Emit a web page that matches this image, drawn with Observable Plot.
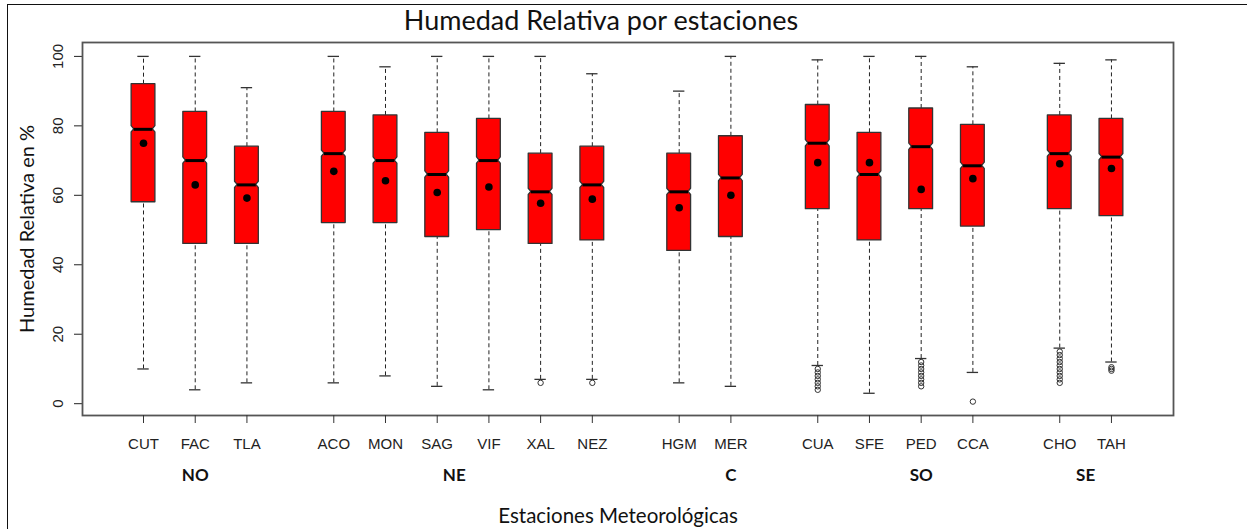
<!DOCTYPE html>
<html><head><meta charset="utf-8">
<script src="https://cdn.jsdelivr.net/npm/d3@7"></script>
<script src="https://cdn.jsdelivr.net/npm/@observablehq/plot@0.6"></script>
<style>
body{margin:0;background:#fff;}
#wrap{position:relative;width:1247px;height:529px;overflow:hidden;background:#fff;}
#wrap svg{position:absolute;left:0;top:0;}
#border{position:absolute;left:7px;top:4px;right:-5px;bottom:-5px;border-left:1.5px solid #111;border-top:1.5px solid #111;pointer-events:none;}
</style></head><body><div id="wrap"></div>
<script>
// ---- data ----
const stations = ["CUT","FAC","TLA","ACO","MON","SAG","VIF","XAL","NEZ","HGM","MER","CUA","SFE","PED","CCA","CHO","TAH"];
const regions  = ["NO","NO","NO","NE","NE","NE","NE","NE","NE","C","C","SO","SO","SO","SO","SE","SE"];
const regionNames = ["NO","NE","C","SO","SE"];
const whiskerLow  = [10, 4, 6, 6, 8, 5, 4, 7, 7, 6, 5, 11, 3, 13, 9, 16, 12];
const q1          = [58, 46, 46, 52, 52, 48, 50, 46, 47, 44, 48, 56, 47, 56, 51, 56, 54];
const medians     = [79, 70, 63, 72, 70, 66, 70, 61, 63, 61, 65, 75, 66, 74, 68.5, 72, 71];
const q3          = [92, 84, 74, 84, 83, 78, 82, 72, 74, 72, 77, 86, 78, 85, 80.3, 83, 82];
const whiskerHigh = [100, 100, 91, 100, 97, 100, 100, 100, 95, 90, 100, 99, 100, 100, 97, 98, 99];
const means       = [75, 63, 59.2, 66.9, 64.2, 60.8, 62.4, 57.7, 58.9, 56.4, 60, 69.4, 69.4, 61.7, 64.8, 69.1, 67.7];
const outliers = {
  XAL: [6],
  NEZ: [6],
  CUA: [4, 5, 6, 7, 8, 9, 10],
  PED: [5, 6, 7, 8, 9, 10, 11, 12],
  CCA: [0.6],
  CHO: [6, 7, 8, 9, 10, 11, 12, 13, 14, 15],
  TAH: [9.5, 10, 10.5]
};
const yTicks = [0, 20, 40, 60, 80, 100];
const title = "Humedad Relativa por estaciones";
const yLabel = "Humedad Relativa en %";
const xLabel = "Estaciones Meteorológicas";

// ---- layout ----
const groupGap = 0.68;
const pos = stations.map((s, i) => i + regionNames.indexOf(regions[i]) * groupGap);
const nameByPos = new Map(pos.map((p, i) => [p, stations[i]]));
const posOf = Object.fromEntries(stations.map((s, i) => [s, pos[i]]));
const regionLabelX = {NO: posOf.FAC, NE: posOf.SAG + 0.33, C: posOf.MER, SO: posOf.PED, SE: (posOf.CHO + posOf.TAH) / 2};
const hw = 0.23, capHw = 0.11, notchH = 0.9, notchIn = 0.05;

const rows = stations.map((s, i) => ({station: s, x: pos[i], lo: whiskerLow[i], q1: q1[i], med: medians[i], q3: q3[i], hi: whiskerHigh[i], mean: means[i]}));
const boxPts = rows.flatMap(r => [
  {station: r.station, y: r.q1, x1: r.x - hw, x2: r.x + hw},
  {station: r.station, y: r.med - notchH, x1: r.x - hw, x2: r.x + hw},
  {station: r.station, y: r.med, x1: r.x - hw + notchIn, x2: r.x + hw - notchIn},
  {station: r.station, y: r.med + notchH, x1: r.x - hw, x2: r.x + hw},
  {station: r.station, y: r.q3, x1: r.x - hw, x2: r.x + hw}
]);
const outPts = Object.entries(outliers).flatMap(([s, vals]) => vals.map(v => ({x: posOf[s], y: v})));
const regionRows = regionNames.map(r => ({region: r, x: regionLabelX[r]}));

const plot = Plot.plot({
  width: 1247,
  height: 529,
  marginTop: 42,
  marginBottom: 114,
  marginLeft: 82,
  marginRight: 74,
  style: {fontFamily: "Liberation Sans, Arial, sans-serif", fontSize: "15px", color: "#222", background: "transparent"},
  x: {type: "linear", domain: [-1.18, 19.92]},
  y: {domain: [-3.4, 104], ticks: yTicks, tickSize: 8, tickPadding: 12, tickRotate: -90, label: null},
  marks: [
    // whiskers
    Plot.ruleX(rows, {x: "x", y1: "q3", y2: "hi", stroke: "#222", strokeWidth: 1, strokeDasharray: "4,3"}),
    Plot.ruleX(rows, {x: "x", y1: "lo", y2: "q1", stroke: "#222", strokeWidth: 1, strokeDasharray: "4,3"}),
    Plot.ruleY(rows, {y: "hi", x1: d => d.x - capHw, x2: d => d.x + capHw, stroke: "#333", strokeWidth: 1.3}),
    Plot.ruleY(rows, {y: "lo", x1: d => d.x - capHw, x2: d => d.x + capHw, stroke: "#333", strokeWidth: 1.3}),
    // boxes
    Plot.areaX(boxPts, {y: "y", x1: "x1", x2: "x2", z: "station", fill: "#ff0000", stroke: "#333", strokeWidth: 1.3}),
    // medians
    Plot.ruleY(rows, {y: "med", x1: d => d.x - hw + notchIn, x2: d => d.x + hw - notchIn, stroke: "#000", strokeWidth: 3}),
    // means
    Plot.dot(rows, {x: "x", y: "mean", r: 3.8, fill: "#000", stroke: "none"}),
    // outliers
    Plot.dot(outPts, {x: "x", y: "y", r: 2.7, fill: "none", stroke: "#333", strokeWidth: 1}),
    Plot.frame({stroke: "#555", strokeWidth: 1.8}),
    // x axis
    Plot.axisX(pos, {tickSize: 8, tickPadding: 15, tickFormat: d => nameByPos.get(d), fontSize: 15, stroke: "#333", fill: "#222", label: null}),
    // region labels
    Plot.text(regionRows, {x: "x", text: "region", frameAnchor: "bottom", lineAnchor: "middle", dy: 60, fontFamily: "Lato", fontWeight: "bold", fontSize: 17, fill: "#111"}),
    // titles
    Plot.text([title], {frameAnchor: "top", lineAnchor: "middle", dy: -21, dx: -27, fontFamily: "Lato", fontSize: 27, fill: "#111"}),
    Plot.text([xLabel], {frameAnchor: "bottom", lineAnchor: "middle", dy: 101, dx: -10, fontFamily: "Lato", fontSize: 20.5, fill: "#111"}),
    Plot.text([yLabel], {frameAnchor: "left", textAnchor: "middle", lineAnchor: "middle", dx: -55, rotate: -90, fontFamily: "Lato", fontSize: 20, fill: "#111"})
  ]
});
const wrap = document.getElementById("wrap");
wrap.appendChild(plot);
const b = document.createElement("div"); b.id = "border"; wrap.appendChild(b);
</script>
</body></html>
